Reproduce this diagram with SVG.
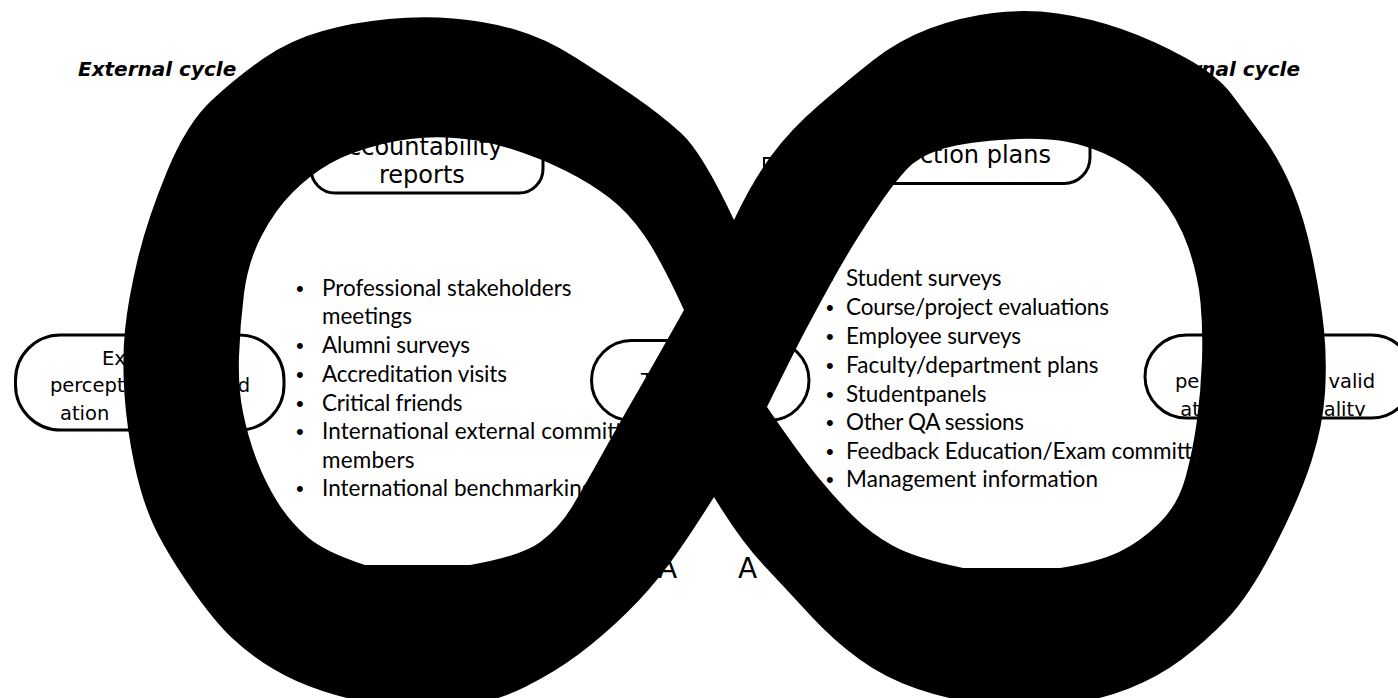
<svg xmlns="http://www.w3.org/2000/svg" width="1398" height="698" viewBox="0 0 1398 698">
<defs>
<style>
.node{fill:#fff;stroke:#000;stroke-width:3}
.nt{font-family:"DejaVu Sans",Verdana,sans-serif;fill:#000}
.lst{font-family:Lato,"Liberation Sans",sans-serif;font-size:22.5px;fill:#000}
.bul{font-family:"Liberation Sans",Arial,sans-serif;font-size:22px;fill:#000}
.ttl{font-family:"DejaVu Sans",Verdana,sans-serif;font-weight:bold;font-style:italic;font-size:20px;fill:#000}
.loop{fill:#000;fill-rule:evenodd;stroke:none}
</style>
<clipPath id="clipR"><rect x="1146.5" y="336.5" width="265" height="80" rx="40"/></clipPath>
</defs>
<rect width="1398" height="698" fill="#fff"/>

<g id="titles">
<text class="ttl" x="78" y="76">External cycle</text>
<text class="ttl" x="1300" y="76" text-anchor="end">Internal cycle</text>
</g>

<g id="node-accountability">
<rect class="node" x="311" y="123" width="232" height="70" rx="24"/>
<text class="nt" font-size="24" x="332" y="155">Accountability</text>
<text class="nt" font-size="24" x="379" y="183">reports</text>
</g>

<g id="node-plans">
<rect class="node" x="820" y="120" width="270" height="63.5" rx="26"/>
<text class="nt" font-size="24" x="1051" y="163" text-anchor="end">ction plans</text>
</g>

<g id="node-box">
<rect x="764" y="158" width="60" height="40" fill="none" stroke="#000" stroke-width="2"/>
</g>

<g id="node-external">
<rect class="node" x="15.5" y="335" width="268.5" height="95" rx="45"/>
<text class="nt" font-size="19.5" x="102" y="365">External</text>
<text class="nt" font-size="19.5" x="150" y="392" text-anchor="middle">perception and valid</text>
<text class="nt" font-size="19.5" x="60" y="420">ation</text>
</g>

<g id="node-center">
<rect class="node" x="591.5" y="340.5" width="217.5" height="80" rx="40"/>
<text class="nt" font-size="19.5" x="641" y="387">T</text>
</g>

<g id="node-internal">
<rect class="node" x="1145" y="335" width="268" height="83" rx="41.5"/>
<g clip-path="url(#clipR)">
<text class="nt" font-size="19.5" x="1275" y="388" text-anchor="middle">perception and valid</text>
<text class="nt" font-size="19.5" x="1273" y="416" text-anchor="middle">ation of the quality</text>
</g>
</g>

<g id="list-external">
<text class="bul" x="296" y="296">•</text><text class="lst" x="322" y="296" textLength="249.5">Professional stakeholders</text>
<text class="lst" x="322" y="324" textLength="90">meetings</text>
<text class="bul" x="296" y="353">•</text><text class="lst" x="322" y="353" textLength="148">Alumni surveys</text>
<text class="bul" x="296" y="382">•</text><text class="lst" x="322" y="382" textLength="185">Accreditation visits</text>
<text class="bul" x="296" y="411">•</text><text class="lst" x="322" y="411" textLength="140.5">Critical friends</text>
<text class="bul" x="296" y="439">•</text><text class="lst" x="322" y="439" textLength="324.5">International external committee</text>
<text class="lst" x="322" y="468" textLength="92.5">members</text>
<text class="bul" x="296" y="496">•</text><text class="lst" x="322" y="496" textLength="271.5">International benchmarking</text>
</g>

<g id="list-internal">
<text class="bul" x="826" y="286">•</text><text class="lst" x="846" y="286" textLength="155.5">Student surveys</text>
<text class="bul" x="826" y="315">•</text><text class="lst" x="846" y="315" textLength="263">Course/project evaluations</text>
<text class="bul" x="826" y="344">•</text><text class="lst" x="846" y="344" textLength="175">Employee surveys</text>
<text class="bul" x="826" y="373">•</text><text class="lst" x="846" y="373" textLength="252.5">Faculty/department plans</text>
<text class="bul" x="826" y="402">•</text><text class="lst" x="846" y="402" textLength="140.5">Studentpanels</text>
<text class="bul" x="826" y="430">•</text><text class="lst" x="846" y="430" textLength="178">Other QA sessions</text>
<text class="bul" x="826" y="459">•</text><text class="lst" x="846" y="459" textLength="369.5">Feedback Education/Exam committee</text>
<text class="bul" x="826" y="487">•</text><text class="lst" x="846" y="487" textLength="252">Management information</text>
</g>

<g id="bottom-labels">
<text class="nt" font-size="28" x="658" y="578">A</text>
<text class="nt" font-size="28" x="738" y="578">A</text>
</g>

<g id="connectors">
<path class="loop" d="M734,220 Q702,152 681,133 Q660,114 633,95.5 Q606,77 575.5,57.5 Q545,38 515,29.5 Q485,21 453.5,18.5 Q422,16 388.5,19 Q355,22 322.5,31 Q290,40 263.5,58.5 Q237,77 212,100 Q187,123 167,171.5 Q147,220 137.5,260 Q128,300 125,330 Q122,360 124.5,395 Q127,430 134.5,465 Q142,500 153.5,525 Q165,550 189,585 Q213,620 231.5,637.5 Q250,655 272.5,668.5 Q295,682 322.5,691 Q350,700 386,706 Q422,712 458.5,707 Q495,702 525,687 Q555,672 579,654 Q603,636 626.5,613 Q650,590 668.5,565 Q687,540 714,497 Q740,540 763.5,565 Q787,590 810,615 Q833,640 859,659 Q885,678 917.5,689 Q950,700 988,705 Q1026,710 1063,705 Q1100,700 1129,688.5 Q1158,677 1181.5,659.5 Q1205,642 1227.5,618.5 Q1250,595 1275,546 Q1300,497 1311.5,461 Q1323,425 1325,392.5 Q1327,360 1324,330 Q1321,300 1313,260 Q1305,220 1292.5,190 Q1280,160 1262.5,136 Q1245,112 1231,93.5 Q1217,75 1185,57.5 Q1153,40 1121.5,29 Q1090,18 1058,13.5 Q1026,9 993,13 Q960,17 929.5,28.5 Q899,40 873.5,60 Q848,80 819,105 Q790,130 771,156 Q752,182 734,220 Z
M684,310 Q652,367 636,394.5 Q620,422 602.5,453.5 Q585,485 572.5,506 Q560,527 541,541.5 Q522,556 470,565 L365,565 Q325,552 307.5,537 Q290,522 277.5,502 Q265,482 256.5,459.5 Q248,437 243,412.5 Q238,388 239,356.5 Q240,325 244,293.5 Q248,262 261.5,236 Q275,210 292.5,192.5 Q310,175 330,163.5 Q350,152 382.5,144 Q415,136 447.5,137.5 Q480,139 510,148.5 Q540,158 565,170.5 Q590,183 609,197.5 Q628,212 644,235 Q660,258 684,310 Z
M767,407 Q795,350 807.5,326.5 Q820,303 832.5,280.5 Q845,258 857.5,238 Q870,218 882.5,200 Q895,182 906.5,169.5 Q918,157 939,150 Q960,143 1000,140 Q1040,137 1065.5,141.5 Q1091,146 1115.5,159 Q1140,172 1159,195 Q1178,218 1188,246.5 Q1198,275 1200.5,302.5 Q1203,330 1202,360 Q1201,390 1197,420 Q1193,450 1185.5,477.5 Q1178,505 1159,523.5 Q1140,542 1119,552 Q1098,562 1060,568 L963,568 Q915,558 892.5,545.5 Q870,533 852.5,515.5 Q835,498 817.5,476.5 Q800,455 767,407 Z"/>
</g>
</svg>
